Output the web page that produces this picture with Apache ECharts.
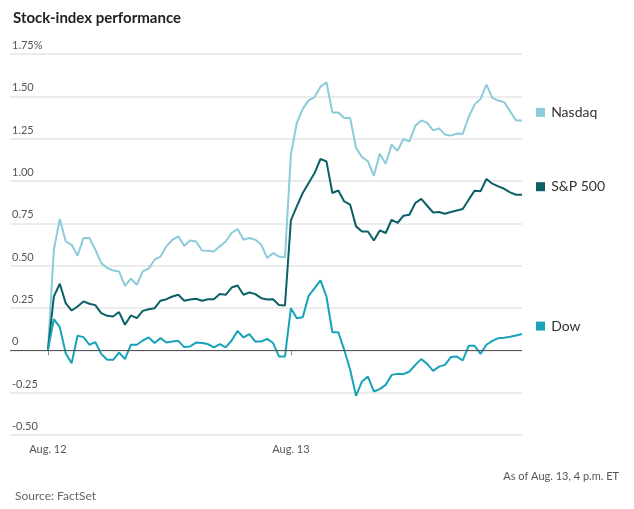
<!DOCTYPE html>
<html><head><meta charset="utf-8">
<script src="https://cdn.jsdelivr.net/npm/echarts@6/dist/echarts.min.js"></script>
<style>html,body{margin:0;padding:0;background:#fff}#chart{width:634px;height:509px}</style>
</head><body><div id="chart"></div>
<script>
var nasdaq = [0,0.594,0.775,0.643,0.623,0.559,0.663,0.663,0.594,0.515,0.486,0.472,0.466,0.381,0.423,0.387,0.466,0.482,0.535,0.554,0.614,0.653,0.673,0.618,0.649,0.643,0.590,0.588,0.584,0.614,0.643,0.693,0.716,0.653,0.663,0.653,0.623,0.545,0.574,0.554,0.549,
  1.155,1.343,1.426,1.476,1.496,1.556,1.583,1.405,1.405,1.372,1.372,1.195,1.142,1.116,1.031,1.161,1.102,1.215,1.179,1.248,1.232,1.327,1.358,1.343,1.299,1.311,1.274,1.268,1.280,1.278,1.378,1.451,1.485,1.569,1.491,1.475,1.465,1.411,1.358,1.358];
var sp500 = [0,0.318,0.393,0.279,0.235,0.259,0.289,0.275,0.267,0.220,0.204,0.200,0.226,0.151,0.206,0.190,0.233,0.243,0.249,0.293,0.302,0.318,0.328,0.293,0.300,0.305,0.293,0.302,0.302,0.332,0.328,0.371,0.383,0.328,0.342,0.332,0.308,0.300,0.302,0.267,0.265,
  0.767,0.850,0.929,0.988,1.047,1.130,1.116,0.929,0.944,0.879,0.860,0.732,0.702,0.702,0.649,0.708,0.693,0.771,0.752,0.795,0.801,0.870,0.894,0.854,0.814,0.817,0.807,0.817,0.826,0.835,0.889,0.943,0.939,1.012,0.984,0.968,0.954,0.933,0.919,0.919];
var dow = [0,0.184,0.137,-0.017,-0.076,0.086,0.078,0.033,0.048,-0.021,-0.056,-0.056,-0.013,-0.052,0.033,0.033,0.058,0.076,0.043,0.072,0.046,0.052,0.056,0.019,0.023,0.046,0.043,0.037,0.017,0.037,0.017,0.058,0.115,0.076,0.096,0.052,0.052,0.068,0.043,-0.037,-0.037,
  0.249,0.190,0.196,0.322,0.367,0.413,0.318,0.107,0.107,0.003,-0.115,-0.269,-0.184,-0.155,-0.243,-0.229,-0.204,-0.145,-0.139,-0.141,-0.125,-0.086,-0.052,-0.080,-0.121,-0.096,-0.086,-0.040,-0.037,-0.060,0.027,0.027,-0.021,0.033,0.056,0.072,0.074,0.080,0.088,0.096];
var dayStarts = [0, 41];
var dayLabels = ['Aug. 12', 'Aug. 13'];
var yTicks = {'1.75':'1.75%','1.5':'1.50','1.25':'1.25','1':'1.00','0.75':'0.75','0.5':'0.50','0.25':'0.25','0':'0','-0.25':'-0.25','-0.5':'-0.50'};

function pts(arr){ return arr.map(function(v,i){ return [i,v]; }); }

var chart = echarts.init(document.getElementById('chart'));
function mk(name, data, color){
  return {
    name: name, type: 'line', data: pts(data), showSymbol: false, silent: true,
    lineStyle: {width: 2, color: color}, itemStyle: {color: color},
    endLabel: {show: true, distance: 14, offset: [0, -8],
      formatter: '{b|}  {t|' + name + '}',
      rich: {b: {width: 9, height: 9, backgroundColor: color},
             t: {fontSize: 14, color: '#333', fontFamily: 'Lato'}}}
  };
}
var series = [mk('Nasdaq', nasdaq, '#8ccbd9'), mk('S&P 500', sp500, '#0b5f66'), mk('Dow', dow, '#17a3b8')];
series[2].markLine = {silent: true, symbol: 'none', label: {show: false},
  lineStyle: {color: '#555', width: 1, type: 'solid'}, data: [{yAxis: 0}]};

chart.setOption({
  animation: false,
  textStyle: {fontFamily: 'Lato'},
  title: [
    {text: 'Stock-index performance', left: 8, top: 6, textStyle: {fontSize: 15, fontWeight: 'bold', color: '#222', fontFamily: 'Lato'}},
    {text: 'As of Aug. 13, 4 p.m. ET', right: 10, top: 466, textStyle: {fontSize: 11, fontWeight: 'normal', color: '#555', fontFamily: 'Lato'}},
    {text: 'Source: FactSet', left: 10, top: 485, textStyle: {fontSize: 12, fontWeight: 'normal', color: '#666', fontFamily: 'Lato'}}
  ],
  grid: {left: 10, right: 112, top: 54, bottom: 74},
  xAxis: {
    type: 'value', min: -6.4, max: 80,
    axisLine: {show: false}, splitLine: {show: false},
    axisTick: {show: true, customValues: dayStarts, length: 5, lineStyle: {color: '#888'}},
    axisLabel: {customValues: dayStarts, fontSize: 11, color: '#555', margin: 9,
      formatter: function(v){ return dayLabels[dayStarts.indexOf(v)] || ''; }}
  },
  yAxis: {
    type: 'value', min: -0.5, max: 1.75, interval: 0.25,
    axisLine: {show: false}, axisTick: {show: false},
    splitLine: {lineStyle: {color: '#e6e6e6', width: 1.5}},
    axisLabel: {inside: true, align: 'left', verticalAlign: 'bottom', margin: 2, padding: [0,0,3,0],
      fontSize: 11, color: '#555',
      formatter: function(v){ return yTicks[String(v)] || ''; }}
  },
  series: series
});
</script></body></html>
